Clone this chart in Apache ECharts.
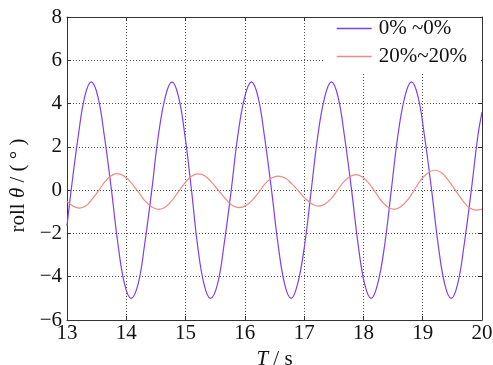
<!DOCTYPE html>
<html>
<head>
<meta charset="utf-8">
<script src="https://cdn.jsdelivr.net/npm/echarts@6/dist/echarts.min.js"></script>
<style>
  * { margin: 0; padding: 0; }
  #chart-container { width: 493px; height: 365px; background: #fff; }
</style>
</head>
<body>
<div id="chart-container"></div>
<script>
// roll angle, 0%~0% case: [time s, roll deg]
var rollA = [
  [13.00, -1.66], [13.07, 0], [13.19, 2.5], [13.30, 4.33], [13.41, 5],
  [13.52, 4.33], [13.63, 2.5], [13.75, 0], [13.86, -2.5], [13.97, -4.33], [14.08, -5],
  [14.20, -4.33], [14.31, -2.5], [14.43, 0], [14.54, 2.5], [14.66, 4.33], [14.77, 5],
  [14.88, 4.33], [14.99, 2.5], [15.10, 0], [15.20, -2.5], [15.31, -4.33], [15.42, -5],
  [15.54, -4.33], [15.65, -2.5], [15.77, 0], [15.88, 2.5], [16.00, 4.33], [16.11, 5],
  [16.22, 4.33], [16.33, 2.5], [16.45, 0], [16.56, -2.5], [16.67, -4.33], [16.78, -5],
  [16.89, -4.33], [17.01, -2.5], [17.12, 0], [17.23, 2.5], [17.35, 4.33], [17.46, 5],
  [17.57, 4.33], [17.68, 2.5], [17.80, 0], [17.91, -2.5], [18.02, -4.33], [18.13, -5],
  [18.24, -4.33], [18.36, -2.5], [18.47, 0], [18.58, 2.5], [18.70, 4.33], [18.81, 5],
  [18.92, 4.33], [19.03, 2.5], [19.15, 0], [19.26, -2.5], [19.37, -4.33], [19.48, -5],
  [19.59, -4.33], [19.70, -2.5], [19.82, 0], [19.93, 2.5], [20.00, 3.6]
]

// roll angle, 20%~20% case
var rollB = [
  [13.00, -0.52], [13.11, -0.75], [13.21, -0.83],
  [13.32, -0.72], [13.42, -0.43], [13.53, -0.04], [13.63, 0.36], [13.74, 0.65], [13.84, 0.76],
  [13.96, 0.65], [14.08, 0.35], [14.20, -0.07], [14.31, -0.48], [14.43, -0.78], [14.55, -0.89],
  [14.66, -0.78], [14.77, -0.48], [14.88, -0.07], [14.99, 0.34], [15.10, 0.64], [15.21, 0.75],
  [15.33, 0.65], [15.44, 0.36], [15.56, -0.03], [15.68, -0.42], [15.79, -0.71], [15.91, -0.81],
  [16.02, -0.71], [16.13, -0.45], [16.24, -0.08], [16.34, 0.29], [16.45, 0.55], [16.56, 0.65],
  [16.68, 0.56], [16.79, 0.30], [16.91, -0.05], [17.02, -0.39], [17.14, -0.65], [17.25, -0.74],
  [17.35, -0.64], [17.46, -0.38], [17.56, -0.01], [17.66, 0.36], [17.77, 0.62], [17.87, 0.72],
  [17.98, 0.61], [18.09, 0.32], [18.20, -0.09], [18.30, -0.49], [18.41, -0.78], [18.52, -0.89],
  [18.63, -0.77], [18.75, -0.44], [18.86, 0.02], [18.97, 0.47], [19.09, 0.80], [19.20, 0.92],
  [19.32, 0.80], [19.43, 0.46], [19.55, 0], [19.67, -0.46], [19.78, -0.80], [19.90, -0.92],
  [20.00, -0.88]
]

var seriesNames = ['0% ~0%', '20%~20%']
var xRange = [13, 20]
var yRange = [-6, 8]

var myChart = echarts.init(document.getElementById('chart-container'), null, { renderer: 'canvas' })

var font = 'Liberation Serif'
var fs = 21
var gridLine = { show: true, lineStyle: { color: '#555', type: [1, 2], width: 1 } }
var edge = { show: true, onZero: false, lineStyle: { color: '#333', width: 1 } }
var tick = { show: true, inside: true, length: 4, lineStyle: { color: '#333' } }

var option = {
  animation: false,
  backgroundColor: '#fff',
  grid: { left: 67, right: 11, top: 17, bottom: 45, outerBoundsMode: 'none', containLabel: false },
  legend: {
    data: seriesNames,
    orient: 'vertical',
    right: 12,
    top: 18,
    padding: [0, 14, 5, 12],
    itemGap: 7,
    itemWidth: 35,
    itemHeight: 1.5,
    icon: 'rect',
    backgroundColor: '#fff',
    textStyle: { fontFamily: font, fontSize: fs, color: '#111', padding: [0, 0, 0, 2] }
  },
  xAxis: [
    {
      type: 'value', min: xRange[0], max: xRange[1], interval: 1,
      name: '{i|T} / s', nameLocation: 'middle', nameGap: 26,
      nameTextStyle: {
        fontFamily: font, fontSize: fs, color: '#111',
        rich: { i: { fontFamily: font, fontSize: fs, fontStyle: 'italic', color: '#111' } }
      },
      axisLine: edge,
      axisTick: tick,
      axisLabel: { fontFamily: font, fontSize: fs, color: '#111', margin: 3 },
      splitLine: gridLine
    },
    {
      type: 'value', position: 'top', min: xRange[0], max: xRange[1], interval: 1,
      axisLine: edge, axisTick: tick,
      axisLabel: { show: false }, splitLine: { show: false }
    }
  ],
  yAxis: [
    {
      type: 'value', min: yRange[0], max: yRange[1], interval: 2,
      name: 'roll {i|θ} / ( ° ){sp|}', nameLocation: 'middle', nameGap: 34,
      nameTextStyle: {
        fontFamily: font, fontSize: fs, color: '#111',
        rich: {
          i: { fontFamily: font, fontSize: fs, fontStyle: 'italic', color: '#111' },
          sp: { width: 34 }
        }
      },
      axisLine: edge, axisTick: tick,
      axisLabel: {
        fontFamily: font, fontSize: fs, color: '#111', margin: 5,
        formatter: function (v) { return v < 0 ? '\u2212' + (-v) : String(v) }
      },
      splitLine: gridLine
    },
    {
      type: 'value', position: 'right', min: yRange[0], max: yRange[1], interval: 2,
      axisLine: edge, axisTick: tick,
      axisLabel: { show: false }, splitLine: { show: false }
    }
  ],
  series: [
    {
      name: seriesNames[0], type: 'line', data: rollA, smooth: 0.4,
      symbol: 'none', lineStyle: { color: '#7b3ff2', width: 1.2 }, itemStyle: { color: '#7b3ff2' }
    },
    {
      name: seriesNames[1], type: 'line', data: rollB, smooth: 0.4,
      symbol: 'none', lineStyle: { color: '#f08a84', width: 1.2 }, itemStyle: { color: '#f08a84' }
    }
  ]
}

myChart.setOption(option)
window.addEventListener('resize', myChart.resize)
</script>
</body>
</html>
